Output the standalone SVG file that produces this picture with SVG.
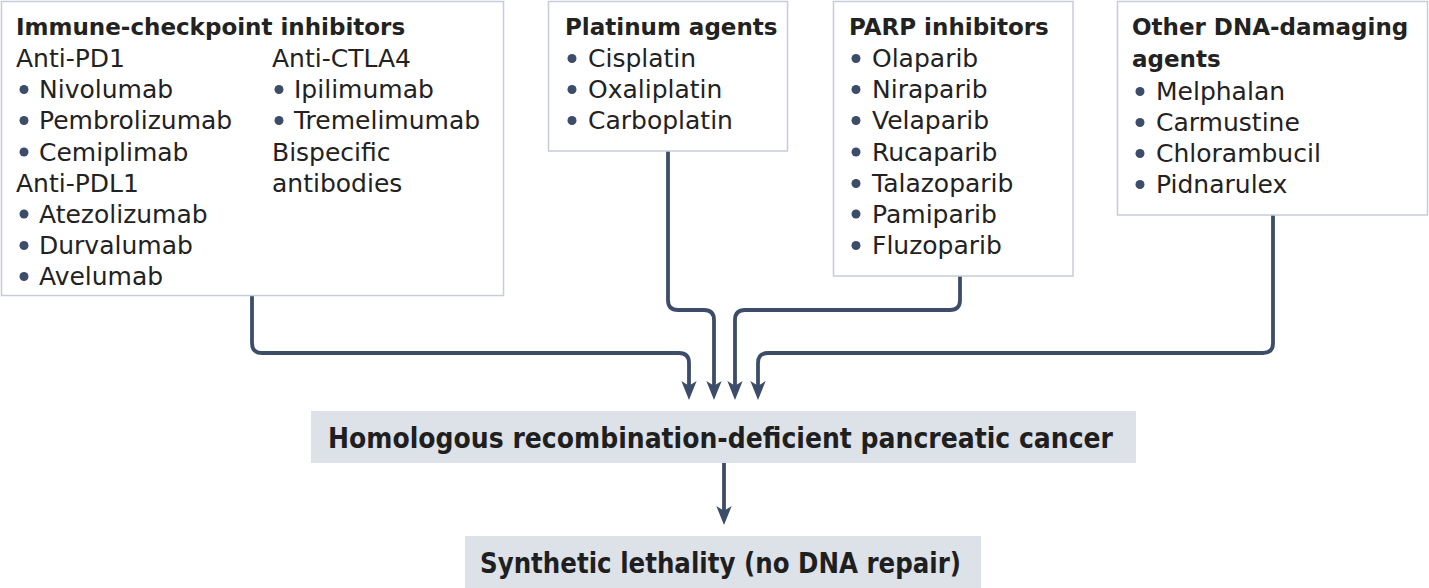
<svg xmlns="http://www.w3.org/2000/svg" width="1429" height="588" viewBox="0 0 1429 588">
<style>
.box{fill:#fff;stroke:#c6ccd8;stroke-width:1.5}
.hl{fill:#dde1e8}
.t{font-family:"DejaVu Sans",sans-serif;font-weight:bold;font-size:23px;fill:#222}
.b{font-family:"DejaVu Sans",sans-serif;font-size:25px;fill:#222}
.k{font-family:"DejaVu Sans",sans-serif;font-weight:bold;font-size:29px;fill:#1f1f1f}
.d{fill:#3d4d69}
.c{fill:none;stroke:#3d4d69;stroke-width:3.8}
</style>
<defs>
<marker id="ah" markerUnits="userSpaceOnUse" markerWidth="20" markerHeight="20" viewBox="0 -8 17 16" refX="5" refY="0" orient="auto">
<path d="M16,0 L0,-6.5 L4,0 L0,6.5 Z" fill="#3d4d69"/>
</marker>
</defs>
<g id="connectors">
<path class="c" d="M252,296 V343 Q252,353 262,353 H679 Q689,353 689,363 V387" marker-end="url(#ah)"/>
<path class="c" d="M668,151 V300 Q668,310 678,310 H704 Q714,310 714,320 V387" marker-end="url(#ah)"/>
<path class="c" d="M960,276 V300 Q960,310 950,310 H745 Q735,310 735,320 V387" marker-end="url(#ah)"/>
<path class="c" d="M1273,215 V343 Q1273,353 1263,353 H768 Q758,353 758,363 V387" marker-end="url(#ah)"/>
<path class="c" d="M724,463 V512" marker-end="url(#ah)"/>
</g>
<g id="ici">
<rect class="box" x="1.5" y="1.5" width="502" height="294"/>
<text class="t" x="16" y="35">Immune-checkpoint inhibitors</text>
<text class="b" x="16" y="67">Anti-PD1</text>
<circle class="d" cx="24" cy="89.5" r="4.5"/><text class="b" x="39" y="98">Nivolumab</text>
<circle class="d" cx="24" cy="120.5" r="4.5"/><text class="b" x="39" y="129">Pembrolizumab</text>
<circle class="d" cx="24" cy="152" r="4.5"/><text class="b" x="39" y="160.5">Cemiplimab</text>
<text class="b" x="16" y="192">Anti-PDL1</text>
<circle class="d" cx="24" cy="214" r="4.5"/><text class="b" x="39" y="222.5">Atezolizumab</text>
<circle class="d" cx="24" cy="245.5" r="4.5"/><text class="b" x="39" y="254">Durvalumab</text>
<circle class="d" cx="24" cy="276.5" r="4.5"/><text class="b" x="39" y="285">Avelumab</text>
<text class="b" x="272" y="67">Anti-CTLA4</text>
<circle class="d" cx="279" cy="89.5" r="4.5"/><text class="b" x="294" y="98">Ipilimumab</text>
<circle class="d" cx="279" cy="120.5" r="4.5"/><text class="b" x="294" y="129">Tremelimumab</text>
<text class="b" x="272" y="160.5">Bispecific</text>
<text class="b" x="272" y="192">antibodies</text>
</g>
<g id="platinum">
<rect class="box" x="548.5" y="1.5" width="239" height="149.5"/>
<text class="t" x="565" y="35">Platinum agents</text>
<circle class="d" cx="572" cy="58.5" r="4.5"/><text class="b" x="588" y="67">Cisplatin</text>
<circle class="d" cx="572" cy="89.5" r="4.5"/><text class="b" x="588" y="98">Oxaliplatin</text>
<circle class="d" cx="572" cy="120.5" r="4.5"/><text class="b" x="588" y="129">Carboplatin</text>
</g>
<g id="parp">
<rect class="box" x="833.5" y="1.5" width="239.5" height="274.5"/>
<text class="t" x="849" y="35">PARP inhibitors</text>
<circle class="d" cx="856" cy="58.5" r="4.5"/><text class="b" x="872" y="67">Olaparib</text>
<circle class="d" cx="856" cy="89.5" r="4.5"/><text class="b" x="872" y="98">Niraparib</text>
<circle class="d" cx="856" cy="120.5" r="4.5"/><text class="b" x="872" y="129">Velaparib</text>
<circle class="d" cx="856" cy="152" r="4.5"/><text class="b" x="872" y="160.5">Rucaparib</text>
<circle class="d" cx="856" cy="183.5" r="4.5"/><text class="b" x="872" y="192">Talazoparib</text>
<circle class="d" cx="856" cy="214" r="4.5"/><text class="b" x="872" y="222.5">Pamiparib</text>
<circle class="d" cx="856" cy="245.5" r="4.5"/><text class="b" x="872" y="254">Fluzoparib</text>
</g>
<g id="other">
<rect class="box" x="1117.5" y="1.5" width="310" height="213.5"/>
<text class="t" x="1132" y="35">Other DNA-damaging</text>
<text class="t" x="1132" y="67">agents</text>
<circle class="d" cx="1140" cy="91.5" r="4.5"/><text class="b" x="1156" y="100">Melphalan</text>
<circle class="d" cx="1140" cy="122.5" r="4.5"/><text class="b" x="1156" y="131">Carmustine</text>
<circle class="d" cx="1140" cy="153.5" r="4.5"/><text class="b" x="1156" y="162">Chlorambucil</text>
<circle class="d" cx="1140" cy="184.5" r="4.5"/><text class="b" x="1156" y="193">Pidnarulex</text>
</g>
<g id="hrd">
<rect class="hl" x="311" y="411" width="825" height="52"/>
<text class="k" x="328" y="448" textLength="785" lengthAdjust="spacingAndGlyphs">Homologous recombination-deficient pancreatic cancer</text>
</g>
<g id="sl">
<rect class="hl" x="465" y="536" width="516" height="52"/>
<text class="k" x="480" y="573" textLength="481" lengthAdjust="spacingAndGlyphs">Synthetic lethality (no DNA repair)</text>
</g>
</svg>
